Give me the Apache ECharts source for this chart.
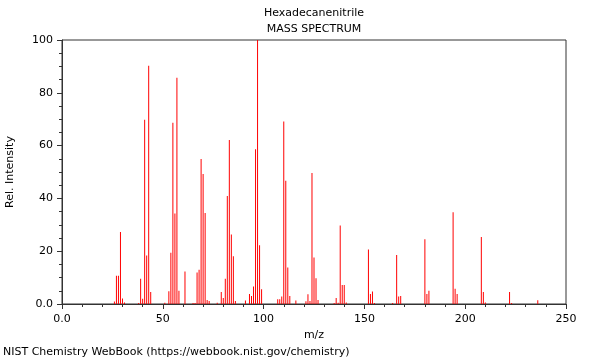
<!DOCTYPE html>
<html><head><meta charset="utf-8">
<script src="https://cdn.jsdelivr.net/npm/echarts@6/dist/echarts.min.js"></script>
<style>html,body{margin:0;padding:0;background:#fff}#c{width:600px;height:360px}</style>
</head><body><div id="c"></div>
<script>
const mz = [26,27,28,29,30,31,38,39,40,41,42,43,44,51,53,54,55,56,57,58,61,65,66,67,68,69,70,71,72,73,77,79,80,81,82,83,84,85,86,91,93,94,95,96,97,98,99,107,108,109,110,111,112,113,116,121,122,123,124,125,126,127,135,136,137,138,139,140,141,152,153,154,155,164,166,167,168,180,181,182,194,195,196,208,209,210,222,223,236];
const intensity = [0.9,10.7,10.7,27.3,2.1,0.6,0.4,9.6,2.0,69.8,18.4,90.2,4.5,0.5,4.8,19.4,68.7,34.3,85.7,5.0,12.3,0.4,0.4,11.9,13.0,54.9,49.2,34.5,1.5,1.1,0.5,4.5,2.3,9.6,40.9,62.1,26.3,18.1,1.1,1.3,3.8,3.0,6.6,58.6,100,22.3,5.6,1.8,1.8,2.8,69.1,46.7,13.8,3.0,1.3,1.0,3.7,1.1,49.6,17.6,9.8,1.5,0.4,2.3,0.5,29.7,7.2,7.2,0.6,20.6,3.8,4.7,0.4,0.4,18.6,2.8,3.0,24.5,3.8,5.0,34.8,5.8,3.8,25.4,4.5,0.6,4.5,0.4,1.4];
const xTicks = [0,50,100,150,200,250];
const yTicks = [0,20,40,60,80,100];
const titleText = 'Hexadecanenitrile';
const subText = 'MASS SPECTRUM';
const footer = 'NIST Chemistry WebBook (https://webbook.nist.gov/chemistry)';

const font = 'DejaVu Sans';
const data = mz.map((m, i) => [m, intensity[i]]);
const fmt = v => (v === 0 ? '0.0' : String(v));
const chart = echarts.init(document.getElementById('c'), null, {renderer: 'canvas'});
const ts = {fontFamily: font, fontSize: 11, fontWeight: 'normal', color: '#000'};
chart.setOption({
  animation: false,
  backgroundColor: '#fff',
  textStyle: {fontFamily: font},
  title: [
    {text: titleText, left: 314, top: 8, padding: 0, textAlign: 'center', textStyle: ts},
    {text: subText, left: 314, top: 24, padding: 0, textAlign: 'center', textStyle: ts},
    {text: footer, left: 3, top: 347, padding: 0, textStyle: ts}
  ],
  grid: {left: 62, right: 34, top: 40, bottom: 56, containLabel: false, outerBoundsMode: 'none', show: true, borderColor: '#333', borderWidth: 1, backgroundColor: 'transparent'},
  xAxis: {
    type: 'value', min: xTicks[0], max: xTicks[xTicks.length - 1], interval: 50,
    name: 'm/z', nameLocation: 'middle', nameGap: 24,
    nameTextStyle: {fontFamily: font, fontSize: 11, color: '#000'},
    axisLine: {show: true, lineStyle: {color: '#333'}},
    axisTick: {show: true, length: 5, lineStyle: {color: '#333'}},
    minorTick: {show: true, splitNumber: 5, length: 3, lineStyle: {color: '#333'}},
    splitLine: {show: false},
    axisLabel: {formatter: fmt, fontFamily: font, fontSize: 11, color: '#000', margin: 10}
  },
  yAxis: {
    type: 'value', min: yTicks[0], max: yTicks[yTicks.length - 1], interval: 20,
    name: 'Rel. Intensity', nameLocation: 'middle', nameGap: 46, nameRotate: 90,
    nameTextStyle: {fontFamily: font, fontSize: 11, color: '#000'},
    axisLine: {show: true, lineStyle: {color: '#333'}},
    axisTick: {show: true, length: 5, lineStyle: {color: '#333'}},
    minorTick: {show: true, splitNumber: 4, length: 3, lineStyle: {color: '#333'}},
    splitLine: {show: false},
    axisLabel: {formatter: fmt, fontFamily: font, fontSize: 11, color: '#000', margin: 9}
  },
  series: [{
    type: 'bar', data: data, barWidth: 1, barGap: '-100%',
    itemStyle: {color: '#ff0000'}, silent: true
  }]
});
</script></body></html>
